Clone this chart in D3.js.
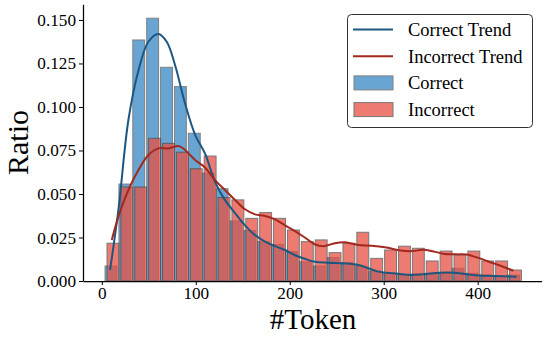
<!DOCTYPE html>
<html>
<head>
<meta charset="utf-8">
<script src="https://cdn.jsdelivr.net/npm/d3@7"></script>
<style>
  body { margin: 0; background: #fff; }
  svg text { font-family: 'Liberation Serif', 'Times New Roman', serif; fill: #000; }
</style>
</head>
<body>
<svg id="chart" width="548" height="339"></svg>
<script>
// histogram bins: 30 bins per series, token start and bin width
const correctBinStart = 2.4;
const incorrectBinStart = 4.5;
const binWidth = 14.77;

// probability per bin
const correctRatio = [
  0.0086, 0.0557, 0.1385, 0.151, 0.1228, 0.1117, 0.0849, 0.062, 0.053, 0.0345,
  0.029, 0.0226, 0.021, 0.0169, 0.011, 0.0086, 0.0134, 0.0105, 0.0086, 0.0057,
  0.0044, 0.0034, 0.004, 0.0044, 0.0044, 0.0073, 0.0044, 0.0034, 0.0029, 0.0034
];
const incorrectRatio = [
  0.0217, 0.054, 0.054, 0.082, 0.0791, 0.074, 0.0645, 0.0718, 0.048, 0.0466,
  0.036, 0.0393, 0.036, 0.0293, 0.0226, 0.0236, 0.0163, 0.0217, 0.028, 0.013,
  0.0178, 0.02, 0.0188, 0.0115, 0.0172, 0.0149, 0.0172, 0.0115, 0.0115, 0.0063
];

// trend (kde) curves
const correctTrendToken = [
  8.8, 17.7, 28.3, 39, 49.6, 60.2, 69.1, 78, 88.6, 99.3, 110, 120.5, 131, 141.8,
  152.4, 163, 173.7, 184.4, 195, 205.6, 216, 227, 240.7, 258.8, 273, 283.6, 294,
  307, 328, 342, 360, 374, 388, 402, 417, 441.5
];
const correctTrendValue = [
  0.0063, 0.041, 0.0925, 0.121, 0.1375, 0.142, 0.1375, 0.124, 0.102, 0.084, 0.073,
  0.057, 0.0466, 0.039, 0.032, 0.0264, 0.0226, 0.02, 0.0178, 0.0148, 0.0128, 0.011,
  0.0105, 0.0101, 0.0092, 0.0073, 0.0054, 0.0046, 0.0035, 0.0039, 0.0048, 0.0048,
  0.0039, 0.0031, 0.0029, 0.0025
];
const incorrectTrendToken = [
  10.6, 17.7, 28.3, 39, 49.6, 60.2, 70.9, 81.5, 88.6, 99.3, 110, 120.5, 131, 141.8,
  152.4, 163, 173.7, 184.4, 195, 205.6, 216, 227, 235.7, 248, 258.8, 273, 287, 303,
  318, 331, 342, 353, 363, 378, 388, 402, 417, 427, 438
];
const incorrectTrendValue = [
  0.0236, 0.037, 0.0523, 0.0638, 0.0724, 0.0762, 0.0762, 0.0776, 0.0753, 0.0695,
  0.0651, 0.058, 0.0523, 0.0466, 0.0412, 0.0383, 0.0374, 0.0354, 0.032, 0.0287,
  0.025, 0.021, 0.02, 0.0217, 0.0222, 0.0207, 0.0203, 0.0192, 0.0175, 0.0172,
  0.018, 0.017, 0.0157, 0.0153, 0.0152, 0.013, 0.0101, 0.0082, 0.0059
];

const xTicks = [0, 100, 200, 300, 400];
const yTicks = [0, 0.025, 0.05, 0.075, 0.1, 0.125, 0.15];
const legendLabels = ['Correct Trend', 'Incorrect Trend', 'Correct', 'Incorrect'];

const serif = "'Liberation Serif', 'Times New Roman', serif";
const svg = d3.select('#chart');
const x = d3.scaleLinear().domain([-20, 468]).range([83, 541.6]);
const y = d3.scaleLinear().domain([0, 0.159]).range([281, 4.3]);

const blueFill = '#2b7fbf';
const redFill = '#e85043';
const blueLine = '#1d5780';
const redLine = '#a3281e';

// bars
const drawBars = (values, start, fill, opacity) => {
  svg.append('g')
    .selectAll('rect')
    .data(values)
    .join('rect')
    .attr('x', (d, i) => x(start + i * binWidth) + 1)
    .attr('width', x(binWidth) - x(0) - 2)
    .attr('y', d => y(d))
    .attr('height', d => y(0) - y(d))
    .attr('fill', fill)
    .attr('stroke', '#4a4a4a')
    .attr('stroke-width', 1)
    .attr('opacity', opacity);
};
drawBars(correctRatio, correctBinStart, blueFill, 0.7);
drawBars(incorrectRatio, incorrectBinStart, redFill, 0.75);

// trend lines
const line = d3.line()
  .x(d => x(d[0]))
  .y(d => y(d[1]))
  .curve(d3.curveCatmullRom.alpha(0.5));

svg.append('path')
  .datum(d3.zip(correctTrendToken, correctTrendValue))
  .attr('fill', 'none')
  .attr('stroke', blueLine)
  .attr('stroke-width', 2)
  .attr('d', line);
svg.append('path')
  .datum(d3.zip(incorrectTrendToken, incorrectTrendValue))
  .attr('fill', 'none')
  .attr('stroke', redLine)
  .attr('stroke-width', 2)
  .attr('d', line);

// axes
const xAxis = svg.append('g')
  .attr('transform', `translate(0, ${y(0)})`)
  .call(d3.axisBottom(x).tickValues(xTicks).tickSize(4).tickSizeOuter(0).tickPadding(2));
const yAxis = svg.append('g')
  .attr('transform', `translate(${x(-20)}, 0)`)
  .call(d3.axisLeft(y).tickValues(yTicks).tickFormat(d3.format('.3f')).tickSize(4).tickSizeOuter(0).tickPadding(3));
[xAxis, yAxis].forEach(a => {
  a.attr('font-family', null).attr('font-size', null);
  a.select('.domain').attr('stroke', '#000').attr('stroke-width', 1.25);
  a.selectAll('.tick line').attr('stroke', '#000').attr('stroke-width', 1);
  a.selectAll('.tick text')
    .style('font-family', serif)
    .style('font-size', '17.2px');
});

// axis titles
svg.append('text')
  .attr('x', 313)
  .attr('y', 329)
  .attr('text-anchor', 'middle')
  .style('font-family', serif)
  .style('font-size', '29px')
  .text('#Token');
svg.append('text')
  .attr('transform', 'translate(28, 142.5) rotate(-90)')
  .attr('text-anchor', 'middle')
  .style('font-family', serif)
  .style('font-size', '30px')
  .text('Ratio');

// legend
const lg = svg.append('g');
lg.append('rect')
  .attr('x', 347.5).attr('y', 14.5)
  .attr('width', 185).attr('height', 113)
  .attr('rx', 4)
  .attr('fill', '#fff')
  .attr('stroke', '#333')
  .attr('stroke-width', 1);
legendLabels.forEach((label, i) => {
  const cy = 29.5 + i * 26.7;
  if (i < 2) {
    lg.append('line')
      .attr('x1', 353).attr('x2', 393)
      .attr('y1', cy).attr('y2', cy)
      .attr('stroke', i === 0 ? blueLine : redLine)
      .attr('stroke-width', 2);
  } else {
    lg.append('rect')
      .attr('x', 354).attr('y', cy - 7)
      .attr('width', 39).attr('height', 14)
      .attr('fill', i === 2 ? blueFill : redFill)
      .attr('stroke', '#4a4a4a')
      .attr('opacity', i === 2 ? 0.7 : 0.75);
  }
  lg.append('text')
    .attr('x', 408)
    .attr('y', cy + 6.5)
    .style('font-family', serif)
    .style('font-size', '18.5px')
    .text(label);
});
</script>
</body>
</html>
